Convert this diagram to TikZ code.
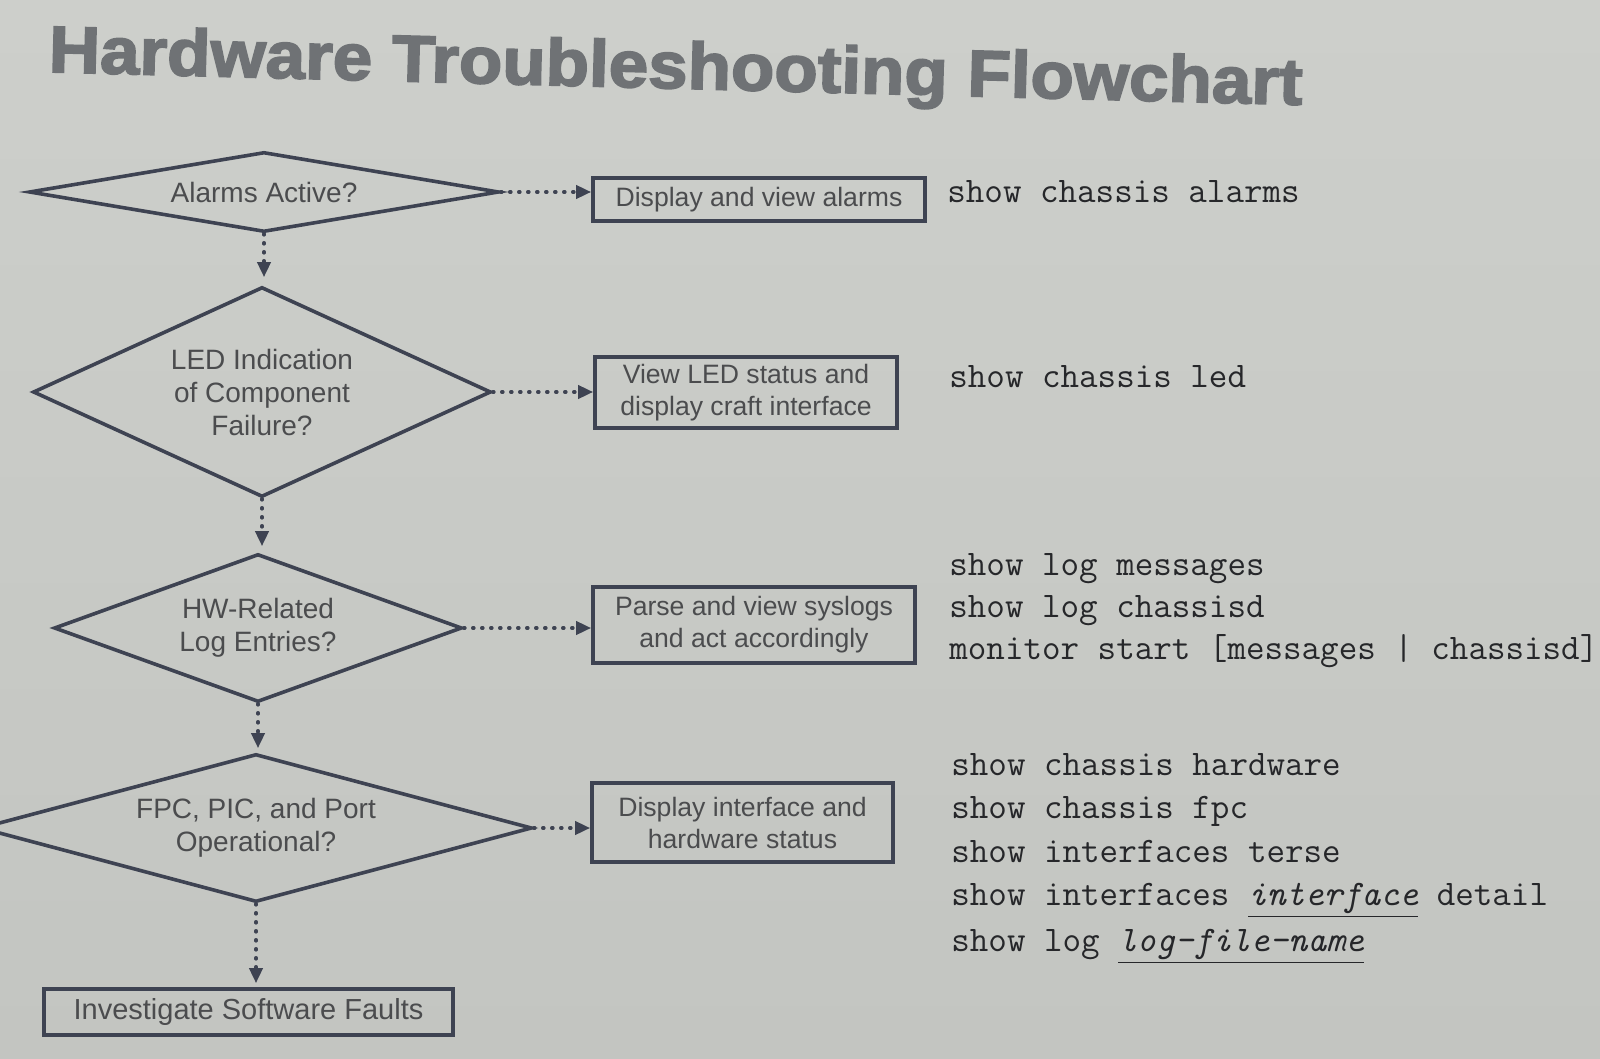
\documentclass[tikz,border=0pt]{standalone}
\usepackage{fontspec}
\setmainfont{Liberation Sans}
\usetikzlibrary{shapes.geometric,arrows.meta}
\definecolor{bgtop}{HTML}{CDCFCB}
\definecolor{bgbot}{HTML}{C3C5C1}
\definecolor{lnc}{HTML}{3E4352}
\definecolor{txc}{HTML}{4B4C4E}
\definecolor{cmdc}{HTML}{26272A}
\definecolor{ttlc}{HTML}{6F7275}
\newcommand\ulit[1]{\underline{\vphantom{g}\textit{#1}}}
\begin{document}
\begin{tikzpicture}[x=0.5pt,y=-0.5pt,
  shp/.style={draw=lnc, line width=1.8pt},
  dia/.style={shp, diamond, inner sep=0pt, text=txc, align=center,
    font=\fontsize{14}{16.5}\selectfont},
  boxn/.style={shp, rectangle, inner sep=0pt, text=txc, align=center,
    font=\fontsize{13.3}{16}\selectfont},
  cmd/.style={anchor=base west, inner sep=0pt, text=cmdc,
    font=\ttfamily\fontsize{18}{20}\selectfont\addfontfeature{FakeBold=0.6}},
  flow/.style={draw=lnc, line width=1.8pt, line cap=round,
    dash pattern=on 0.5pt off 4pt, -{Triangle[length=7.5pt,width=6.5pt]}}]
\useasboundingbox (0,0) rectangle (1600,1059);
\shade[top color=bgtop, bottom color=bgbot] (0,0) rectangle (1600,1059);

% title
\node[anchor=base west, inner sep=0pt, rotate=-1.5, text=ttlc,
  font=\bfseries\fontsize{33}{33}\selectfont\addfontfeature{FakeBold=2.5}] (title) at (48,72)
  {\resizebox{627pt}{\height}{Hardware Troubleshooting Flowchart}};

% decisions
\node[dia, minimum width=235pt, minimum height=40pt, aspect=5.9] (d1) at (264,192) {Alarms Active?};
\node[dia, minimum width=229pt, minimum height=105pt, aspect=2.18] (d2) at (262,392) {LED Indication\\of Component\\Failure?};
\node[dia, minimum width=204pt, minimum height=74pt, aspect=2.76] (d3) at (258,628) {HW-Related\\Log Entries?};
\node[dia, minimum width=276pt, minimum height=74pt, aspect=3.73] (d4) at (256,828) {FPC, PIC, and Port\\Operational?};

% actions
\node[boxn, minimum width=166pt, minimum height=21.5pt] (b1) at (759,199.5) {Display and view alarms};
\node[boxn, minimum width=151pt, minimum height=35.5pt] (b2) at (746,392.5) {View LED status and\\display craft interface};
\node[boxn, minimum width=161pt, minimum height=38pt] (b3) at (754,625) {Parse and view syslogs\\and act accordingly};
\node[boxn, minimum width=150.5pt, minimum height=39.5pt] (b4) at (742.5,822.5) {Display interface and\\hardware status};
\node[boxn, minimum width=204.5pt, minimum height=23pt, font=\fontsize{14.5}{16}\selectfont] (b5) at (248.5,1012) {Investigate Software Faults};

% connectors
\draw[flow] (d1.east) -- (d1.east -| b1.west);
\draw[flow] (d2.east) -- (d2.east -| b2.west);
\draw[flow] (d3.east) -- (d3.east -| b3.west);
\draw[flow] (d4.east) -- (d4.east -| b4.west);
\draw[flow, shorten >=4pt] (d1.south) -- (d1.south |- d2.north);
\draw[flow, shorten >=3pt] (d2.south) -- (d2.south |- d3.north);
\draw[flow, shorten >=2pt] (d3.south) -- (d3.south |- d4.north);
\draw[flow, shorten >=2pt] (d4.south) -- (d4.south |- b5.north);

% commands
\node[cmd] (c1) at (947,203) {show chassis alarms};
\node[cmd] (c2) at (949,387) {show chassis led};
\node[cmd] (c3) at (949,575) {show log messages};
\node[cmd] (c4) at (949,617) {show log chassisd};
\node[cmd] (c5) at (949,659) {monitor start [messages | chassisd]};
\node[cmd] (c6) at (951,775) {show chassis hardware};
\node[cmd] (c7) at (951,818) {show chassis fpc};
\node[cmd] (c8) at (951,862) {show interfaces terse};
\node[cmd] (c9) at (951,905) {show interfaces \ulit{interface} detail};
\node[cmd] (c10) at (951,951) {show log \ulit{log-file-name}};
\end{tikzpicture}
\end{document}
